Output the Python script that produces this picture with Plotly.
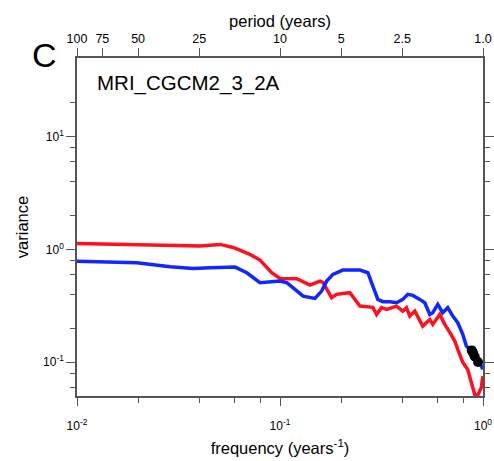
import plotly.graph_objects as go

# frequency (years^-1) and variance
red_freq = [0.0100, 0.0288, 0.0404, 0.0507, 0.0588, 0.0711, 0.0797, 0.0910, 0.100, 0.121,
            0.1405, 0.1574, 0.1628, 0.1796, 0.190, 0.2208, 0.2475, 0.2866, 0.299, 0.3164,
            0.335, 0.375, 0.4027, 0.420, 0.436, 0.4615, 0.4884, 0.505, 0.547, 0.5656,
            0.6124, 0.648, 0.686, 0.726, 0.751, 0.795, 0.841, 0.887, 0.910, 0.942, 0.982, 0.997]
red_var = [1.13, 1.07, 1.07, 1.108, 1.04, 0.903, 0.804, 0.621, 0.553, 0.550,
           0.482, 0.523, 0.510, 0.373, 0.399, 0.413, 0.314, 0.306, 0.265, 0.304,
           0.2935, 0.314, 0.2835, 0.304, 0.256, 0.2835, 0.239, 0.2087, 0.239, 0.216,
           0.265, 0.216, 0.1834, 0.1536, 0.1296, 0.0994, 0.0861, 0.0596, 0.0517, 0.0507, 0.0596, 0.0751]

blue_freq = [0.0100, 0.0197, 0.0288, 0.0373, 0.0453, 0.0601, 0.0686, 0.0797, 0.100, 0.108,
             0.130, 0.1486, 0.1604, 0.1697, 0.1823, 0.204, 0.2475, 0.271, 0.2866, 0.3035,
             0.321, 0.3478, 0.375, 0.4027, 0.426, 0.451, 0.4884, 0.5166, 0.547, 0.5656,
             0.5987, 0.6336, 0.6706, 0.7096, 0.751, 0.795, 0.828, 0.877, 0.928, 0.982, 0.997]
blue_var = [0.787, 0.762, 0.702, 0.678, 0.688, 0.697, 0.621, 0.5065, 0.523, 0.5065,
            0.385, 0.367, 0.4266, 0.523, 0.600, 0.655, 0.655, 0.621, 0.4725, 0.360,
            0.3435, 0.3435, 0.3365, 0.360, 0.399, 0.3907, 0.360, 0.3365, 0.265, 0.2744,
            0.325, 0.2744, 0.304, 0.256, 0.2237, 0.176, 0.1387, 0.1252, 0.1057, 0.0921, 0.0861]

dot_freq = [0.880, 0.893, 0.910, 0.945]
dot_var = [0.127, 0.121, 0.112, 0.100]

period_labels = ["100", "75", "50", "25", "10", "5", "2.5", "1.0"]
period_values = [100, 75, 50, 25, 10, 5, 2.5, 1.0]

x_major = [0.01, 0.1, 1.0]
x_major_text = ["10<sup>-2</sup>", "10<sup>-1</sup>", "10<sup>0</sup>"]
x_minor = [0.02, 0.04, 0.06, 0.08, 0.2, 0.4, 0.6, 0.8]
y_major = [0.1, 1.0, 10.0]
y_major_text = ["10<sup>-1</sup>", "10<sup>0</sup>", "10<sup>1</sup>"]
y_minor = [0.06, 0.08, 0.2, 0.4, 0.6, 0.8, 2, 4, 6, 8, 20]

FONT = "Liberation Sans, Arial, sans-serif"
AX = "#555555"

fig = go.Figure()
fig.add_trace(go.Scatter(x=red_freq, y=red_var, mode="lines",
                         line=dict(color="#ff1020", width=3.5), showlegend=False))
fig.add_trace(go.Scatter(x=blue_freq, y=blue_var, mode="lines",
                         line=dict(color="#1028ff", width=3.5), showlegend=False))
fig.add_trace(go.Scatter(x=dot_freq, y=dot_var, mode="markers",
                         marker=dict(color="black", size=10), showlegend=False))
# invisible trace to activate the top (period) axis
fig.add_trace(go.Scatter(x=[1.0 / p for p in period_values], y=[1.0] * len(period_values),
                         xaxis="x2", mode="markers", marker=dict(opacity=0),
                         showlegend=False, hoverinfo="skip"))

fig.update_layout(
    width=494, height=461,
    margin=dict(l=77, r=11, t=58, b=65),
    plot_bgcolor="white", paper_bgcolor="white",
    font=dict(family=FONT, color="black"),
    xaxis=dict(type="log", range=[-2, 0], showgrid=False, zeroline=False, automargin=False,
               showline=True, linecolor=AX, linewidth=1.5, mirror=False,
               ticks="outside", ticklen=8, tickwidth=1, tickcolor=AX,
               tickmode="array", tickvals=x_major, ticktext=x_major_text,
               tickfont=dict(size=12), ticklabelstandoff=10,
               minor=dict(tickmode="array", tickvals=x_minor, ticks="outside",
                          ticklen=5, tickcolor=AX, tickwidth=1, showgrid=False),
               title=dict(text="frequency (years<sup>-1</sup>)", font=dict(size=16.5), standoff=10)),
    xaxis2=dict(type="log", range=[-2, 0], overlaying="x", side="top", automargin=False,
                showgrid=False, zeroline=False, showline=True, linecolor=AX, linewidth=1.5,
                ticks="outside", ticklen=8, tickwidth=1, tickcolor=AX,
                tickmode="array", tickvals=[1.0 / p for p in period_values],
                ticktext=period_labels, tickfont=dict(size=12.5), ticklabelstandoff=0,
                title=dict(text="period (years)", font=dict(size=16.5), standoff=0)),
    yaxis=dict(type="log", range=[-1.30103, 1.69897], showgrid=False, zeroline=False,
               automargin=False,
               showline=True, linecolor=AX, linewidth=1.5, mirror="ticks",
               ticks="outside", ticklen=9, tickwidth=1, tickcolor=AX,
               tickmode="array", tickvals=y_major, ticktext=y_major_text,
               tickfont=dict(size=12),
               minor=dict(tickmode="array", tickvals=y_minor, ticks="outside",
                          ticklen=5, tickcolor=AX, tickwidth=1, showgrid=False),
               title=dict(text="variance", font=dict(size=16.5), standoff=10)),
    annotations=[
        dict(text="C", x=0, y=1, xref="paper", yref="paper", showarrow=False,
             font=dict(size=34)),
        dict(text="MRI_CGCM2_3_2A", x=0, y=1, xref="paper", yref="paper",
             xanchor="left", yanchor="middle", showarrow=False, font=dict(size=20.5)),
    ],
)
# place annotations in pixel terms via paper coords
pw = 494 - 77 - 11
ph = 461 - 58 - 65
fig.layout.annotations[0].update(x=(44 - 77) / pw, y=(461 - 65 - 55) / ph,
                                 xanchor="center", yanchor="middle")
fig.layout.annotations[1].update(x=(95 - 77) / pw, y=(461 - 65 - 83) / ph)

fig.write_html("out.html")
